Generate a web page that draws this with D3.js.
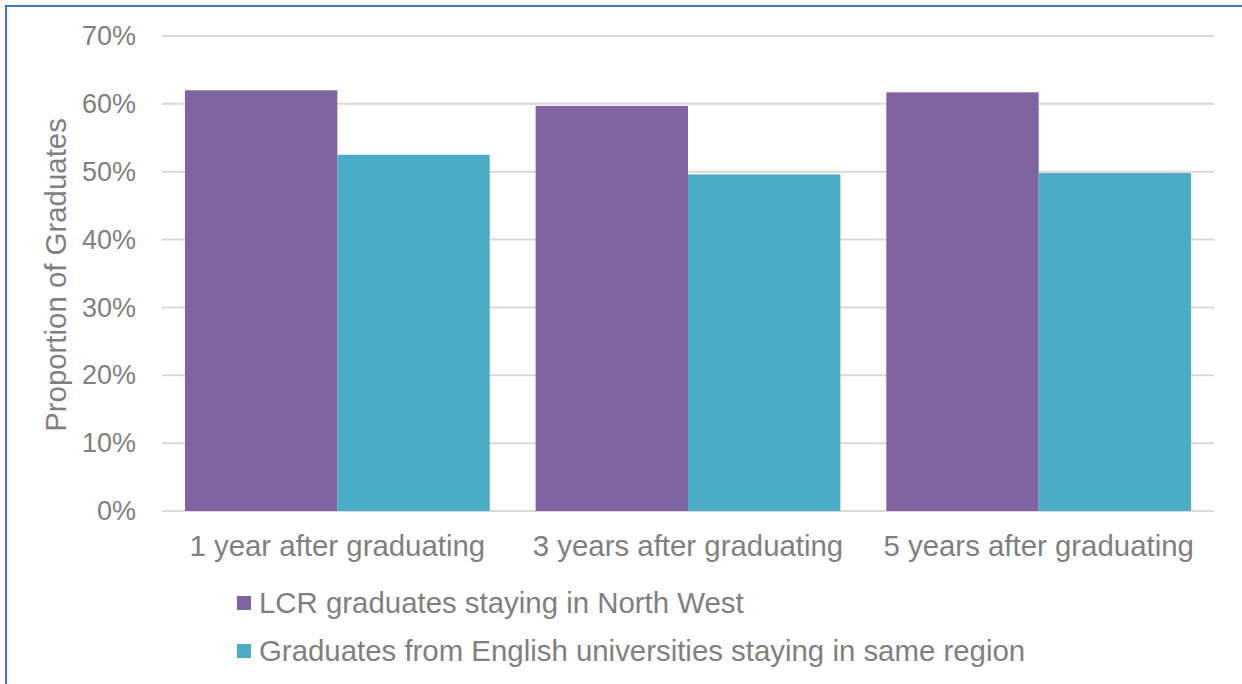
<!DOCTYPE html>
<html>
<head>
<meta charset="utf-8">
<script src="https://cdn.jsdelivr.net/npm/d3@7"></script>
<style>
  html, body { margin: 0; padding: 0; background: #fff; }
  svg { display: block; font-family: "Liberation Sans", Arial, sans-serif; }
</style>
</head>
<body>
<svg id="chart" width="1242" height="684"></svg>
<script>
// Share of graduates staying in region, by time since graduation
const categories = ["1 year after graduating", "3 years after graduating", "5 years after graduating"];
const seriesNames = ["LCR graduates staying in North West", "Graduates from English universities staying in same region"];
const lcrValues = [0.620, 0.597, 0.617];
const englandValues = [0.525, 0.496, 0.498];
const yTicks = [0, 0.1, 0.2, 0.3, 0.4, 0.5, 0.6, 0.7];
const colors = ["#8064A2", "#4BACC6"];

const series = [lcrValues, englandValues];
const svg = d3.select("#chart");
const W = 1242, H = 684;
const plot = { left: 162, right: 1214, top: 36, bottom: 511 };
const textColor = "#7f7f7f";
const labelSize = 29.4;

// Outer frame (only top and left edges fall inside the view)
svg.append("rect")
  .attr("x", 6).attr("y", 6)
  .attr("width", W + 20).attr("height", H + 20)
  .attr("fill", "none").attr("stroke", "#4472C4").attr("stroke-width", 2);

const y = d3.scaleLinear().domain([0, 0.7]).range([plot.bottom, plot.top]);
const x0 = d3.scaleBand().domain(categories).range([plot.left, plot.right])
  .paddingInner(0.131).paddingOuter(0.0655);
const x1 = d3.scaleBand().domain(d3.range(series.length)).range([0, x0.bandwidth()]);

// Gridlines
svg.append("g").selectAll("line").data(yTicks).join("line")
  .attr("x1", plot.left).attr("x2", plot.right)
  .attr("y1", d => y(d)).attr("y2", d => y(d))
  .attr("stroke", "#d9d9d9").attr("stroke-width", 2);

// Y axis tick labels
const yAxis = d3.axisLeft(y).tickValues(yTicks).tickFormat(d3.format(".0%")).tickSize(0).tickPadding(0);
const gy = svg.append("g").attr("transform", `translate(136,0)`).call(yAxis);
gy.select(".domain").remove();
gy.selectAll("text").attr("fill", textColor).attr("font-size", 27)
  .attr("font-family", "Liberation Sans, Arial, sans-serif");

// Bars
const groups = svg.append("g").selectAll("g").data(categories).join("g")
  .attr("transform", d => `translate(${x0(d)},0)`);
groups.selectAll("rect")
  .data((d, i) => series.map((s, k) => ({ k, v: s[i] })))
  .join("rect")
  .attr("x", d => x1(d.k))
  .attr("width", x1.bandwidth())
  .attr("y", d => y(d.v))
  .attr("height", d => y(0) - y(d.v))
  .attr("fill", d => colors[d.k]);

// Category axis
const xAxis = d3.axisBottom(x0).tickSize(0).tickPadding(0);
const gx = svg.append("g").attr("transform", `translate(0,${plot.bottom})`).call(xAxis);
gx.select(".domain").remove();
gx.selectAll("text").attr("fill", textColor).attr("font-size", labelSize)
  .attr("font-family", "Liberation Sans, Arial, sans-serif")
  .attr("dy", null).attr("y", 45);

// Y axis title
svg.append("text")
  .attr("transform", "translate(66,275) rotate(-90)")
  .attr("text-anchor", "middle")
  .attr("fill", textColor).attr("font-size", labelSize)
  .text("Proportion of Graduates");

// Legend
const legend = svg.append("g").selectAll("g").data(seriesNames).join("g")
  .attr("transform", (d, i) => `translate(237,${603 + i * 48})`);
legend.append("rect")
  .attr("x", 0).attr("y", -7).attr("width", 14).attr("height", 14)
  .attr("fill", (d, i) => colors[i]);
legend.append("text")
  .attr("x", 22).attr("y", 10)
  .attr("fill", textColor).attr("font-size", labelSize)
  .text(d => d);
</script>
</body>
</html>
